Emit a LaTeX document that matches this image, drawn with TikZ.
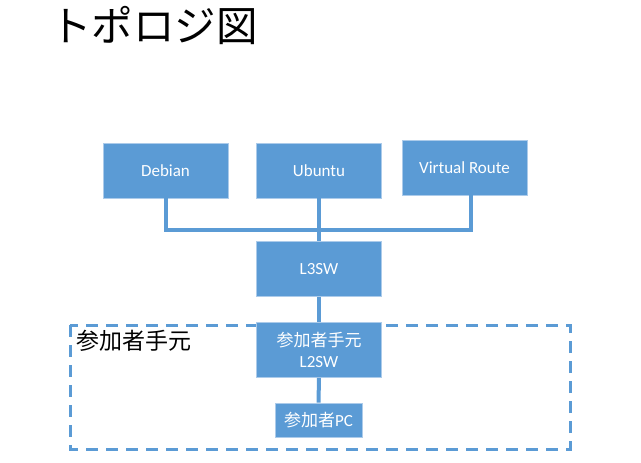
\documentclass[tikz,border=0pt]{standalone}
\usepackage{fontspec}
\setmainfont{Carlito}
\newfontfamily\jp{Noto Sans CJK JP}
\definecolor{topoblue}{RGB}{91,155,213}
\definecolor{topoedge}{RGB}{172,203,234}

\begin{document}
\begin{tikzpicture}[x=1pt,y=-1pt]
\tikzstyle{every node}+=[inner sep=0pt]
\tikzstyle{box}=[rectangle,fill=topoblue,draw=topoedge,line width=0.8pt,text=white,minimum width=125pt,minimum height=55pt,align=center,font=\fontsize{17}{21}\selectfont]
\tikzstyle{link}=[topoblue,line width=4pt]
\useasboundingbox (0,0) rectangle (641,463);
\node[anchor=west,font=\jp\fontsize{41.5}{45}\selectfont] (title) at (50,25) {トポロジ図};
%participant side
\draw [topoblue,line width=3pt,dash pattern=on 12pt off 8pt] (70,325) rectangle (570,449);
\node[anchor=west,font=\jp\fontsize{23}{26}\selectfont] (sidelabel) at (76,341) {参加者手元};
\node[box] (debian) at (165.5,170.5) {Debian};
\node[box] (ubuntu) at (319,170.5) {Ubuntu};
\node[box] (vrouter) at (464.5,167.5) {Virtual Route};
\node[box] (l3sw) at (319,269) {L3SW};
\node[box] (l2sw) at (319,350) {{\jp 参加者手元}\\L2SW};
\node[box,minimum width=87pt,minimum height=34pt] (pc) at (318.5,420) {{\jp 参加者}PC};
\coordinate (bus) at (319,230);
\draw [link] (debian.south) |- (bus) -| ([xshift=6.5pt]vrouter.south);
\draw [link] (ubuntu.south) -- (l3sw.north);
\draw [link] (l3sw.south) -- (l2sw.north);
\draw [link] (l2sw.south) -- (pc.north);
\end{tikzpicture}
\end{document}
